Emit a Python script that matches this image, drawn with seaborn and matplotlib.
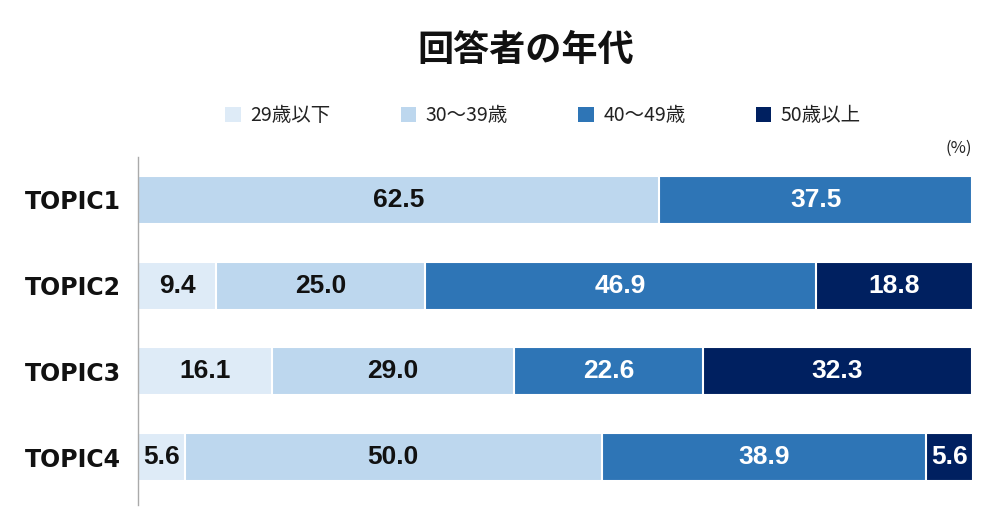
import numpy as np
import pandas as pd
import matplotlib
matplotlib.use("Agg")
import matplotlib.pyplot as plt
from matplotlib.patches import Patch
import seaborn as sns

# data
topics = ["TOPIC1", "TOPIC2", "TOPIC3", "TOPIC4"]
age_groups = ["29歳以下", "30〜39歳", "40〜49歳", "50歳以上"]
under29 = [0.0, 9.4, 16.1, 5.6]
age30s = [62.5, 25.0, 29.0, 50.0]
age40s = [37.5, 46.9, 22.6, 38.9]
over50 = [0.0, 18.8, 32.3, 5.6]
colors = ["#deebf7", "#bdd7ee", "#2e75b6", "#002060"]
text_colors = ["#111111", "#111111", "white", "white"]

sns.set_style("white")
plt.rcParams["font.family"] = ["Noto Sans CJK JP", "DejaVu Sans"]

values = np.array([under29, age30s, age40s, over50])
cum = np.cumsum(values, axis=0)
starts = cum - values

fig = plt.figure(figsize=(10, 5.3), dpi=100)
ax = fig.add_axes([0.138, 0.047, 0.834, 0.657])

# stacked bars: draw cumulative totals from the largest down
for i in reversed(range(len(age_groups))):
    df = pd.DataFrame({"topic": topics, "value": cum[i]})
    sns.barplot(data=df, x="value", y="topic", orient="h", color=colors[i],
                width=0.56, edgecolor="white", linewidth=1.5, saturation=1,
                ax=ax)

# value labels
for i in range(len(age_groups)):
    for j in range(len(topics)):
        v = values[i, j]
        if v <= 0:
            continue
        ax.text(starts[i, j] + v / 2, j, f"{v:.1f}", ha="center", va="center",
                fontsize=19, fontweight="bold", color=text_colors[i],
                family=["Liberation Sans", "DejaVu Sans"])

ax.set_xlim(0, 100)
ax.set_ylim(3.56, -0.5)
ax.set_xlabel("")
ax.set_ylabel("")
ax.set_xticks([])
ax.tick_params(axis="y", length=0, pad=12)
for lab in ax.get_yticklabels():
    lab.set_fontsize(17)
    lab.set_fontweight("bold")
    lab.set_family(["DejaVu Sans"])
    lab.set_color("#111111")
for s in ["top", "right", "bottom"]:
    ax.spines[s].set_visible(False)
ax.spines["left"].set_color("#aaaaaa")
ax.spines["left"].set_linewidth(1)

fig.text(0.526, 0.905, "回答者の年代", ha="center", va="center",
         fontsize=26, fontweight="bold", color="#111111")
fig.text(0.972, 0.705, "(%)", ha="right", va="bottom", fontsize=12,
         color="#222222")

handles = [Patch(facecolor=c, edgecolor="none") for c in colors]
fig.legend(handles, age_groups, loc="center", bbox_to_anchor=(0.543, 0.782),
           ncol=4, frameon=False, fontsize=14, handlelength=0.8,
           handleheight=0.8, handletextpad=0.5, columnspacing=3.6,
           labelcolor="#222222")

fig.savefig("out.png", dpi=100)
